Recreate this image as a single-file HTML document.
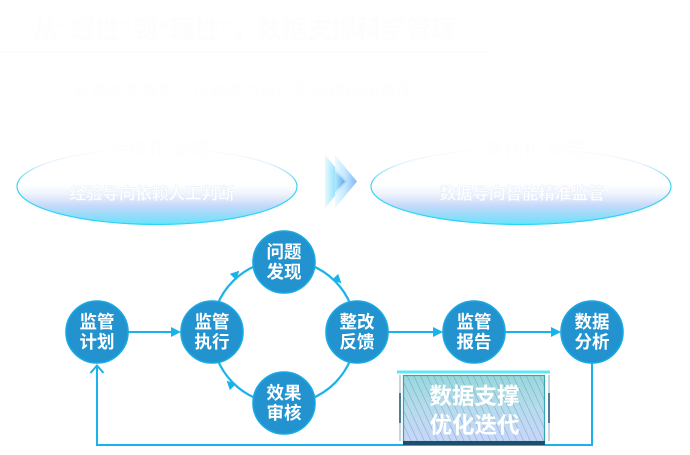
<!DOCTYPE html>
<html><head><meta charset="utf-8"><style>
html,body{margin:0;padding:0;background:#fff;}
svg{display:block;}
text{font-family:"Liberation Sans","Noto Sans CJK SC",sans-serif;}
</style></head><body>
<svg width="690" height="455" viewBox="0 0 690 455" xmlns="http://www.w3.org/2000/svg">
<defs>
<linearGradient id="eg" x1="0" y1="0" x2="0" y2="1">
<stop offset="0" stop-color="#ffffff"/>
<stop offset="0.48" stop-color="#ffffff"/>
<stop offset="0.6" stop-color="#eef3fd"/>
<stop offset="0.75" stop-color="#c6dafa"/>
<stop offset="0.9" stop-color="#8fdcfa"/>
<stop offset="1" stop-color="#66e4fc"/>
</linearGradient>
<linearGradient id="es" x1="0" y1="0" x2="0" y2="1">
<stop offset="0" stop-color="#ffffff"/>
<stop offset="0.2" stop-color="#e4f2fc"/>
<stop offset="0.45" stop-color="#3ed2f2"/>
<stop offset="1" stop-color="#2ad6f6"/>
</linearGradient>
<linearGradient id="ch1" x1="0" y1="0" x2="1" y2="0">
<stop offset="0" stop-color="#e6fbff"/>
<stop offset="0.5" stop-color="#98e0fc"/>
<stop offset="1" stop-color="#2a88ee"/>
</linearGradient>
<linearGradient id="ch2" x1="0" y1="0" x2="1" y2="0">
<stop offset="0" stop-color="#e8faff"/>
<stop offset="0.5" stop-color="#b5e0fd"/>
<stop offset="1" stop-color="#6aa8fa"/>
</linearGradient>
<linearGradient id="bx" x1="0" y1="0" x2="0" y2="1">
<stop offset="0" stop-color="#98d8dc"/>
<stop offset="0.5" stop-color="#b6dcec"/>
<stop offset="1" stop-color="#c8d6fa"/>
</linearGradient>
<pattern id="hatch" patternUnits="userSpaceOnUse" width="6" height="6" patternTransform="rotate(-25)">
<rect width="6" height="6" fill="none"/>
<line x1="0" y1="0" x2="0" y2="6" stroke="#4d6a94" stroke-width="0.9" stroke-opacity="0.55"/>
</pattern>
</defs>

<!-- title -->
<text x="33" y="38" font-size="25" font-weight="bold" fill="#fdfdfd" textLength="423" lengthAdjust="spacingAndGlyphs">从“感性”到“理性”，数据支撑科学管理</text>
<line x1="0" y1="52" x2="490" y2="52" stroke="#f8f9fa" stroke-width="1"/>
<text x="73" y="96" font-size="16" fill="#fdfdfd" textLength="340" lengthAdjust="spacingAndGlyphs">监管体系重构：以数据为核心驱动精细化管理</text>

<!-- ellipses -->
<ellipse cx="157" cy="186.5" rx="140" ry="38" fill="url(#eg)" stroke="url(#es)" stroke-width="1.2"/>
<ellipse cx="521" cy="186.5" rx="150" ry="38" fill="url(#eg)" stroke="url(#es)" stroke-width="1.2"/>
<text x="160" y="155" text-anchor="middle" font-size="19" fill="#fdfdfe">传统化 管理</text>
<text x="535" y="155" text-anchor="middle" font-size="19" fill="#fdfdfe">现代化 管理</text>
<text x="152" y="199" text-anchor="middle" font-size="16.5" font-weight="bold" fill="#ffffff" stroke="#e2ecfb" stroke-width="0.4">经验导向依赖人工判断</text>
<text x="522" y="199" text-anchor="middle" font-size="16.5" font-weight="bold" fill="#ffffff" stroke="#e2ecfb" stroke-width="0.4">数据导向智能精准监管</text>

<!-- chevron -->
<polygon points="325,155 347,181.5 325,208" fill="url(#ch1)"/>
<polygon points="335,155 357,181.5 335,208" fill="url(#ch2)" opacity="0.85"/>
<polygon points="325,160 345,181.5 325,203" fill="url(#ch1)" opacity="0.6"/>

<!-- ring -->
<circle cx="284" cy="332" r="72" fill="none" stroke="#1ab2ea" stroke-width="2.2"/>
<g fill="#1ab2ea">
<polygon points="0,-4.5 9,0 0,4.5" transform="translate(233,277) rotate(-45)"/>
<polygon points="0,-4.5 9,0 0,4.5" transform="translate(335,277) rotate(45)"/>
<polygon points="0,-4.5 9,0 0,4.5" transform="translate(233,387) rotate(-135)"/>
</g>

<!-- straight connectors -->
<g stroke="#1ab2ea" stroke-width="2" fill="none">
<line x1="128" y1="332" x2="173" y2="332"/>
<line x1="388" y1="332" x2="435" y2="332"/>
<line x1="505" y1="332" x2="553" y2="332"/>
<polyline points="592,363 592,445 97,445 97,366"/>
<polyline points="90.5,373 97,365.5 103.5,373" stroke-width="2"/>
</g>
<g fill="#1ab2ea">
<polygon points="171,327 181,332 171,337"/>
<polygon points="433,327 443,332 433,337"/>
<polygon points="551,327 561,332 551,337"/>
</g>

<!-- nodes -->
<g fill="#2393cf" stroke="#18a9e3" stroke-width="1.6">
<circle cx="97" cy="332" r="31"/>
<circle cx="212" cy="332" r="31"/>
<circle cx="284" cy="262" r="31"/>
<circle cx="357" cy="332" r="31"/>
<circle cx="284" cy="403" r="31"/>
<circle cx="474" cy="332" r="31"/>
<circle cx="592" cy="332" r="31"/>
</g>
<g font-size="17.5" font-weight="bold" fill="#ffffff" text-anchor="middle">
<text x="97" y="328">监管</text><text x="97" y="348">计划</text>
<text x="212" y="328">监管</text><text x="212" y="348">执行</text>
<text x="284" y="258">问题</text><text x="284" y="278">发现</text>
<text x="357" y="328">整改</text><text x="357" y="348">反馈</text>
<text x="284" y="399">效果</text><text x="284" y="419">审核</text>
<text x="474" y="328">监管</text><text x="474" y="348">报告</text>
<text x="592" y="328">数据</text><text x="592" y="348">分析</text>
</g>

<!-- data box -->
<rect x="397" y="370.5" width="153" height="3" fill="#5ee6f8"/>
<rect x="399" y="375" width="2" height="66" fill="#c9d4dc"/>
<rect x="399" y="393" width="2" height="30" fill="#4f7f98"/>
<rect x="548" y="375" width="2" height="66" fill="#c9d4dc"/>
<rect x="548" y="393" width="2" height="30" fill="#4f7f98"/>
<rect x="403.5" y="375.5" width="141" height="66" fill="url(#bx)" stroke="#36a6b2" stroke-width="1.2"/>
<rect x="404" y="376" width="140" height="65" fill="url(#hatch)"/>
<rect x="403" y="441" width="142" height="4" fill="#1b4f6c"/>
<g font-size="22.5" font-weight="bold" fill="#ffffff" text-anchor="middle">
<text x="474.5" y="404">数据支撑</text>
<text x="474.5" y="433">优化迭代</text>
</g>
</svg>
</body></html>
